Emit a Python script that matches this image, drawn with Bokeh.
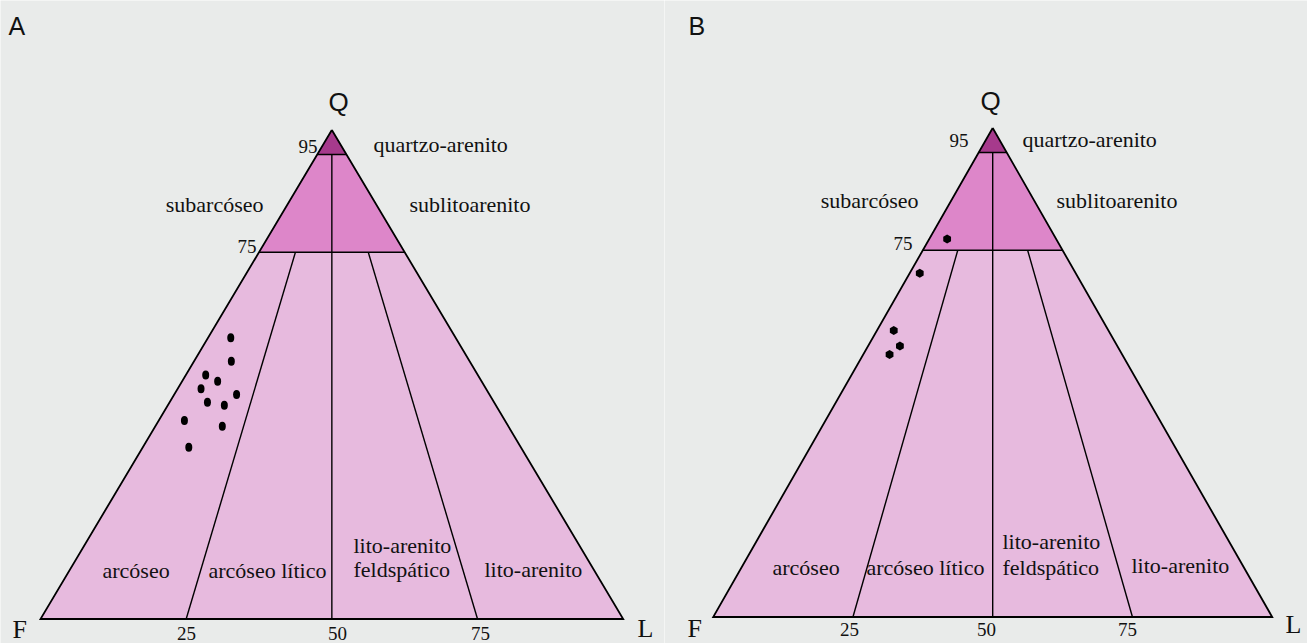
from bokeh.plotting import figure
from bokeh.layouts import row
from bokeh.models import Range1d, Label
from bokeh.embed import file_html
from bokeh.resources import INLINE

# ---------------- data ----------------
panel_letters = ["A", "B"]
vertex_labels = ["Q", "F", "L"]
q_limits = [95, 75]                 # Q boundaries (%)
q_limit_labels = ["95", "75"]
fl_ratios = [25, 50, 75]            # L/(F+L) boundaries (%)
fl_ratio_labels = ["25", "50", "75"]
upper_classes = ["quartzo-arenito", "subarcóseo", "sublitoarenito"]
lower_classes = ["arcóseo", "arcóseo lítico", "lito-arenito", "feldspático", "lito-arenito"]

# Panel A samples (Q, F, L in %)
a_Q = [57.5, 52.7, 49.9, 48.6, 47.1, 45.9, 44.3, 43.7, 40.6, 39.4, 35.1]
a_F = [38.6, 40.9, 46.7, 45.3, 48.9, 43.4, 49.2, 46.6, 55.0, 49.1, 57.0]
a_L = [3.9, 6.4, 3.4, 6.1, 4.0, 10.7, 6.5, 9.7, 4.4, 11.5, 7.9]

# Panel B samples (Q, F, L in %)
b_Q = [77.3, 70.3, 58.6, 55.4, 53.7]
b_F = [19.5, 27.9, 38.4, 38.9, 41.6]
b_L = [3.2, 1.8, 3.0, 5.7, 4.7]

# ---------------- style ----------------
BG = "#e9ebea"
LOWER = "#e7bade"
BAND = "#dd86c9"
TIP = "#a63a8c"
SERIF = "Liberation Serif"
SANS = "Liberation Sans"
H = 643
BASELINE_FIX = 0.35   # em; renderer places the alphabetic baseline lower


def tern(q, f, l):
    s = q + f + l
    return (l + q / 2.0) / s, q / s


def ratio_point(q, r):
    rest = 100.0 - q
    return tern(q, (100 - r) / 100.0 * rest, r / 100.0 * rest)


def build(letter, Qs, Fs, Ls, kind, g, lay):
    sx = g["L_px"] - g["F_px"]
    sy = g["sy"]

    def dx(px):
        return (px - g["F_px"]) / sx

    def dy(py):
        return (g["base_py"] - py) / sy

    left = g["left"]
    W = g["width"]
    p = figure(width=W, height=H,
               x_range=Range1d(dx(left), dx(left + W)),
               y_range=Range1d(dy(H), dy(0)),
               x_axis_type=None, y_axis_type=None,
               output_backend="svg", toolbar_location=None,
               min_border=0, background_fill_color=BG,
               border_fill_color=BG, outline_line_color=None)
    p.grid.visible = False

    q95, q75 = q_limits
    # regions
    lower = [tern(0, 100, 0), tern(0, 0, 100), tern(q75, 0, 100 - q75), tern(q75, 100 - q75, 0)]
    band = [tern(q75, 100 - q75, 0), tern(q75, 0, 100 - q75), tern(q95, 0, 100 - q95), tern(q95, 100 - q95, 0)]
    tip = [tern(q95, 100 - q95, 0), tern(q95, 0, 100 - q95), tern(100, 0, 0)]
    for poly, col in ((lower, LOWER), (band, BAND), (tip, TIP)):
        p.patch([v[0] for v in poly], [v[1] for v in poly], fill_color=col, line_color=None)

    # horizontal Q limits
    for q in q_limits:
        a = tern(q, 100 - q, 0)
        b = tern(q, 0, 100 - q)
        p.line([a[0], b[0]], [a[1], b[1]], line_color="black", line_width=1.6)

    # F:L ratio lines
    for r in fl_ratios:
        top = q95 if r == 50 else q75
        a = ratio_point(top, r)
        b = ratio_point(0, r)
        p.line([a[0], b[0]], [a[1], b[1]], line_color="black", line_width=1.4)

    # outline
    tri = [tern(100, 0, 0), tern(0, 100, 0), tern(0, 0, 100), tern(100, 0, 0)]
    p.line([v[0] for v in tri], [v[1] for v in tri], line_color="black",
           line_width=1.8, line_join="miter")

    # samples
    pts = [tern(q, f, l) for q, f, l in zip(Qs, Fs, Ls)]
    xs = [v[0] for v in pts]
    ys = [v[1] for v in pts]
    if kind == "dot":
        p.ellipse(xs, ys, width=7, height=9, width_units="screen",
                  height_units="screen", fill_color="black", line_color=None)
    else:
        p.scatter(xs, ys, marker="hex", size=9, angle=1.5708,
                  fill_color="black", line_color=None)

    def lab(text, pos, font, size, align="left"):
        shift = BASELINE_FIX * size
        p.add_layout(Label(x=dx(pos[0]), y=dy(pos[1] - shift), text=text,
                           text_font=font, text_font_size=f"{size}px",
                           text_align=align, text_baseline="alphabetic",
                           text_color="#111111"))

    lab(letter, lay["letter"], SANS, 25)
    lab(vertex_labels[0], lay["Q"], SANS, 26, "center")
    lab(vertex_labels[1], lay["F"], SERIF, 26)
    lab(vertex_labels[2], lay["L"], SERIF, 26)
    for t, pos in zip(q_limit_labels, lay["qlim"]):
        lab(t, pos, SERIF, 19, "right")
    for t, pos in zip(fl_ratio_labels, lay["ticks"]):
        lab(t, pos, SERIF, 19, "center")
    lab(upper_classes[0], lay["up"][0], SERIF, 22)
    lab(upper_classes[1], lay["up"][1], SERIF, 22, "right")
    lab(upper_classes[2], lay["up"][2], SERIF, 22)
    for t, pos in zip(lower_classes, lay["low"]):
        lab(t, pos, SERIF, 22)
    return p


geomA = dict(F_px=40.0, L_px=622.7, base_py=618.5, sy=489.0, left=0, width=664)
geomB = dict(F_px=712.7, L_px=1271.7, base_py=616.5, sy=489.0, left=664, width=643)

layA = dict(letter=(8, 34), Q=(338, 111), F=(12, 638), L=(637, 637),
            qlim=[(317, 153), (256, 253)],
            ticks=[(186, 640), (337, 640), (480, 640)],
            up=[(373, 152), (263, 212), (409, 212)],
            low=[(102, 578), (208, 578), (353, 553), (353, 577), (484, 577)])
layB = dict(letter=(688, 34), Q=(990, 110), F=(687, 637), L=(1285, 633),
            qlim=[(968, 147), (912, 250)],
            ticks=[(849, 636), (986, 636), (1127, 636)],
            up=[(1022, 147), (918, 208), (1056, 208)],
            low=[(772, 575), (866, 575), (1002, 549), (1002, 575), (1131, 573)])

pA = build(panel_letters[0], a_Q, a_F, a_L, "dot", geomA, layA)
pB = build(panel_letters[1], b_Q, b_F, b_L, "hex", geomB, layB)

p = row(pA, pB)
open("out.html", "w").write(file_html(p, INLINE))
